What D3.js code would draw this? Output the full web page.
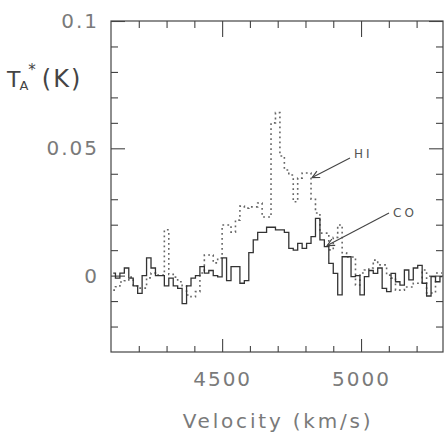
<!DOCTYPE html>
<html>
<head>
<meta charset="utf-8">
<script src="https://cdn.jsdelivr.net/npm/d3@7"></script>
<style>
  html, body { margin: 0; padding: 0; background: #fff; }
  svg { display: block; }
</style>
</head>
<body>
<script>
// ---- data ----
const velocities = [
  4108,4124,4140,4156,4172,4188,4204,4220,4236,4252,
  4268,4284,4300,4316,4332,4348,4364,4380,4396,4412,
  4428,4444,4460,4476,4492,4508,4524,4540,4556,4572,
  4588,4604,4620,4636,4652,4668,4684,4700,4716,4732,
  4748,4764,4780,4796,4812,4828,4844,4860,4876,4892,
  4908,4924,4940,4956,4972,4988,5004,5020,5036,5052,
  5068,5084,5100,5116,5132,5148,5164,5180,5196,5212,
  5228,5244,5260,5276,5292
];
const coValues = [
  0.001, -0.001, 0.001, 0.003, -0.001, -0.004, -0.007, 0.000, 0.007, 0.003,
  0.000, 0.000, -0.004, -0.001, -0.004, -0.005, -0.011, -0.004, -0.001, 0.000,
  0.0035, 0.001, 0.002, 0.000, -0.0005, 0.007, -0.002, 0.0035, 0.0035, -0.003,
  -0.002, 0.009, 0.014, 0.017, 0.017, 0.019, 0.019, 0.018, 0.018, 0.017,
  0.0107, 0.010, 0.0127, 0.0107, 0.0127, 0.0153, 0.0225, 0.014, 0.0114, 0.0048,
  0.0009, -0.0076, 0.0074, 0.0074, -0.0004, 0.000, -0.0076, -0.0004, 0.002, 0.0009,
  0.003, -0.005, -0.0063, 0.0009, -0.0024, -0.0037, 0.0022, -0.0017, 0.003, 0.004,
  -0.003, -0.008, -0.0004, -0.0024, -0.0004
];
const hiValues = [
  -0.0057, -0.0044, -0.0025, -0.002, -0.0006, -0.0041, -0.0049, -0.0049, -0.0009, 0.001,
  0.0002, 0.0002, 0.018, 0.0005, -0.0006, -0.0024, -0.004, -0.0076, -0.0083, -0.0063,
  0.001, 0.0081, 0.0081, 0.005, 0.0069, 0.0199, 0.0199, 0.0171, 0.0218, 0.0273,
  0.0265, 0.027, 0.027, 0.0285, 0.023, 0.023, 0.060, 0.064, 0.047, 0.0415,
  0.0395, 0.029, 0.0383, 0.0403, 0.0403, 0.03, 0.0246, 0.0167, 0.0167, 0.0101,
  0.015, 0.0199, 0.009, 0.0073, 0.0073, -0.0037, 0.001, 0.0022, 0.003, 0.0061,
  0.0042, 0.0042, 0.0002, -0.001, -0.0057, -0.0057, -0.0045, -0.0045, -0.003, -0.003,
  0.0022, -0.0068, -0.0068, 0.001, 0.001
];
const xMajorTicks = [4500, 5000];
const xMajorLabels = ["4500", "5000"];
const xMinorTicks = [4200,4300,4400,4600,4700,4800,4900,5100,5200];
const yMajorTicks = [0, 0.05, 0.1];
const yMajorLabels = ["0", "0.05", "0.1"];
const yMinorTicks = [-0.02,-0.01,0.01,0.02,0.03,0.04,0.06,0.07,0.08,0.09];
const xTitle = "Velocity (km/s)";
const annotations = [
  {label: "HI", v: 4824, t: 0.0385},
  {label: "CO", v: 4878, t: 0.0118}
];

// ---- layout ----
const W = 444, H = 441;
const L = 111, R = 443, T = 21, B = 352;
const x = d3.scaleLinear().domain([4100, 5295]).range([L, R]);
const y = d3.scaleLinear().domain([-0.03, 0.1]).range([B, T]);

const svg = d3.select("body").append("svg").attr("width", W).attr("height", H);
svg.append("rect").attr("width", W).attr("height", H).attr("fill", "#fff");

const axisColor = "#444";
const labelColor = "#7a7a7a";
const font = "'DejaVu Sans', 'Liberation Sans', sans-serif";

function styleAxis(g) {
  g.select(".domain").remove();
  g.selectAll("line").attr("stroke", axisColor).attr("stroke-width", 1.1);
  g.selectAll("text").attr("fill", labelColor).style("font-family", font)
   .style("font-size", "20px").style("letter-spacing", "2px");
}

// bottom
svg.append("g").attr("transform", `translate(0,${B})`)
  .call(d3.axisBottom(x).tickValues(xMinorTicks).tickSize(-6).tickFormat("")).call(styleAxis);
svg.append("g").attr("transform", `translate(0,${B})`)
  .call(d3.axisBottom(x).tickValues(xMajorTicks).tickSize(-13).tickPadding(20)
    .tickFormat((d, i) => xMajorLabels[i])).call(styleAxis);
// top
svg.append("g").attr("transform", `translate(0,${T})`)
  .call(d3.axisTop(x).tickValues(xMinorTicks).tickSize(-7).tickFormat("")).call(styleAxis);
svg.append("g").attr("transform", `translate(0,${T})`)
  .call(d3.axisTop(x).tickValues(xMajorTicks).tickSize(-16).tickFormat("")).call(styleAxis);
// left
svg.append("g").attr("transform", `translate(${L},0)`)
  .call(d3.axisLeft(y).tickValues(yMinorTicks).tickSize(-7).tickFormat("")).call(styleAxis);
svg.append("g").attr("transform", `translate(${L},0)`)
  .call(d3.axisLeft(y).tickValues(yMajorTicks).tickSize(-14).tickPadding(12)
    .tickFormat((d, i) => yMajorLabels[i])).call(styleAxis);
// right
svg.append("g").attr("transform", `translate(${R},0)`)
  .call(d3.axisRight(y).tickValues(yMinorTicks).tickSize(-7).tickFormat("")).call(styleAxis);
svg.append("g").attr("transform", `translate(${R},0)`)
  .call(d3.axisRight(y).tickValues(yMajorTicks).tickSize(-14).tickFormat("")).call(styleAxis);

// frame
svg.append("rect").attr("x", L).attr("y", T).attr("width", R - L).attr("height", B - T)
  .attr("fill", "none").attr("stroke", axisColor).attr("stroke-width", 1.2);

// spectra
const coData = velocities.map((v, i) => ({v, t: coValues[i]}));
const hiData = velocities.map((v, i) => ({v, t: hiValues[i]}));
const line = d3.line().x(d => x(d.v)).y(d => y(d.t)).curve(d3.curveStep);

svg.append("path").datum(hiData).attr("d", line)
  .attr("fill", "none").attr("stroke", "#666").attr("stroke-width", 1.6)
  .attr("stroke-dasharray", "1.8,3.2");
svg.append("path").datum(coData).attr("d", line)
  .attr("fill", "none").attr("stroke", "#333").attr("stroke-width", 1.3);

// x title
svg.append("text").attr("x", 278).attr("y", 428).attr("text-anchor", "middle")
  .attr("fill", labelColor).style("font-family", font).style("font-size", "20px")
  .style("letter-spacing", "2.8px").text(xTitle);

// y title (handwritten style)
const yt = svg.append("text").attr("x", 7).attr("y", 87).attr("fill", "#444")
  .style("font-family", font).style("font-size", "22px");
yt.append("tspan").text("T");
yt.append("tspan").attr("dy", 3).attr("dx", -1).style("font-size", "13px").text("A");
yt.append("tspan").attr("dy", -15).style("font-size", "15px").text("*");
yt.append("tspan").attr("dy", 12).attr("dx", 6).style("font-size", "24px")
  .style("letter-spacing", "2px").text("(K)");

// annotations with arrows
svg.append("defs").append("marker").attr("id", "arr").attr("viewBox", "0 0 10 10")
  .attr("refX", 9).attr("refY", 5).attr("markerWidth", 9).attr("markerHeight", 9)
  .attr("orient", "auto-start-reverse").attr("markerUnits", "userSpaceOnUse")
  .append("path").attr("d", "M1,1 L9,5 L1,9").attr("fill", "none")
  .attr("stroke", "#444").attr("stroke-width", 1.3);

const hi = annotations[0], co = annotations[1];
svg.append("line").attr("x1", 350).attr("y1", 158).attr("x2", x(hi.v)).attr("y2", y(hi.t))
  .attr("stroke", "#444").attr("stroke-width", 1.1).attr("marker-end", "url(#arr)");
svg.append("text").attr("x", 354).attr("y", 158).attr("fill", "#555")
  .style("font-family", font).style("font-size", "12px").style("letter-spacing", "3px").text(hi.label);
svg.append("line").attr("x1", 389).attr("y1", 213).attr("x2", x(co.v)).attr("y2", y(co.t))
  .attr("stroke", "#444").attr("stroke-width", 1.1).attr("marker-end", "url(#arr)");
svg.append("text").attr("x", 393).attr("y", 217).attr("fill", "#555")
  .style("font-family", font).style("font-size", "12px").style("letter-spacing", "3px").text(co.label);
</script>
</body>
</html>
